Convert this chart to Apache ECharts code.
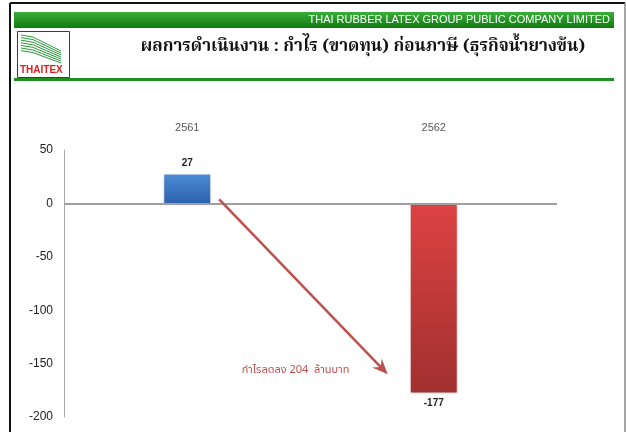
<!DOCTYPE html>
<html>
<head>
<meta charset="utf-8">
<script src="https://cdn.jsdelivr.net/npm/echarts@6/dist/echarts.min.js"></script>
<style>
  html, body { margin: 0; padding: 0; background: #fff; }
  #chart { width: 626px; height: 432px; }
</style>
</head>
<body>
<div id="chart"></div>
<script>
// data
var categories = ['2561', '2562']
var profitValues = [27, -177]
var yTicks = { min: -200, max: 50, interval: 50 }
var companyName = 'THAI RUBBER LATEX GROUP PUBLIC COMPANY LIMITED'
var titleText = 'ผลการดำเนินงาน : กำไร (ขาดทุน) ก่อนภาษี (ธุรกิจน้ำยางข้น)'
var noteText = 'กำไรลดลง 204  ล้านบาท'

var myChart = echarts.init(document.getElementById('chart'))

function barColor(v) {
  // blue for profit, red for loss
  if (v >= 0) {
    return new echarts.graphic.LinearGradient(0, 0, 0, 1, [
      { offset: 0, color: '#4d8ad6' },
      { offset: 1, color: '#2c62ac' },
    ])
  }
  return new echarts.graphic.LinearGradient(0, 0, 0, 1, [
    { offset: 0, color: '#dd4242' },
    { offset: 1, color: '#a23030' },
  ])
}

var barData = profitValues.map(function (v) {
  return {
    value: v,
    itemStyle: { color: barColor(v) },
    label: { position: v >= 0 ? 'top' : 'bottom' },
  }
})

myChart.setOption({
  animation: false,
  backgroundColor: '#fff',
  grid: { left: 64, right: 69, top: 150, bottom: 15 },
  xAxis: {
    type: 'category',
    data: categories,
    position: 'top',
    axisLine: { show: false, onZero: false },
    axisTick: { show: false },
    axisLabel: { margin: 17, color: '#595959', fontSize: 11, fontFamily: 'Liberation Sans, Arial' },
  },
  yAxis: {
    type: 'value',
    min: yTicks.min,
    max: yTicks.max,
    interval: yTicks.interval,
    axisLine: { show: true, lineStyle: { color: '#a6a6a6', width: 1 } },
    axisTick: { show: false },
    splitLine: { show: false },
    axisLabel: { margin: 11, color: '#222', fontSize: 12, fontFamily: 'Liberation Sans, Arial' },
  },
  series: [
    {
      type: 'bar',
      data: barData,
      barWidth: 46,
      itemStyle: { shadowBlur: 3, shadowColor: 'rgba(0,0,0,0.3)', shadowOffsetY: 1 },
      label: {
        show: true,
        color: '#222',
        fontSize: 10,
        fontWeight: 'bold',
        distance: 6,
        fontFamily: 'Liberation Sans, Arial',
      },
      markLine: {
        silent: true,
        symbol: 'none',
        label: { show: false },
        lineStyle: { color: '#a0a0a0', width: 2, type: 'solid' },
        data: [{ yAxis: 0 }],
      },
    },
  ],
})

// logo stripes
var logoLines = []
for (var i = 0; i < 7; i++) {
  logoLines.push({
    type: 'polyline',
    shape: { points: [[21, 35 + i * 2.6], [33, 37 + i * 2.6], [61, 51 + i * 2]] },
    style: { stroke: '#2a9a3a', lineWidth: 1, fill: null },
  })
}

// arrow + note placed relative to the bars
var p0 = myChart.convertToPixel({ seriesIndex: 0 }, [0, 0])
var p1 = myChart.convertToPixel({ seriesIndex: 0 }, [1, -160])
var x1 = p0[0] + 32, y1 = p0[1] - 4
var x2 = p1[0] - 46, y2 = p1[1]
var ang = Math.atan2(y2 - y1, x2 - x1)
var head = 17, spread = 0.4

var graphics = [
  // outer frame
  { type: 'line', shape: { x1: 10, y1: 3, x2: 10, y2: 432 }, style: { stroke: '#111', lineWidth: 2 } },
  { type: 'line', shape: { x1: 10, y1: 3, x2: 625, y2: 3 }, style: { stroke: '#111', lineWidth: 2 } },
  { type: 'line', shape: { x1: 625, y1: 3, x2: 625, y2: 432 }, style: { stroke: '#888', lineWidth: 1.5 } },
  // green header band
  {
    type: 'rect',
    shape: { x: 14, y: 12, width: 600, height: 16 },
    style: {
      fill: new echarts.graphic.LinearGradient(0, 0, 0, 1, [
        { offset: 0, color: '#3cae3c' },
        { offset: 1, color: '#107a10' },
      ]),
    },
  },
  {
    type: 'text', x: 610, y: 20,
    style: {
      text: companyName, fill: '#fff', fontSize: 11, fontFamily: 'Liberation Sans, Arial',
      align: 'right', verticalAlign: 'middle',
    },
  },
  // logo
  { type: 'rect', shape: { x: 17.5, y: 31.5, width: 52, height: 46 }, style: { fill: '#fff', stroke: '#2030c8', lineWidth: 1 } },
].concat(logoLines).concat([
  {
    type: 'text', x: 20, y: 70,
    style: { text: 'THAITEX', fill: '#e02020', fontSize: 10, fontWeight: 'bold', fontFamily: 'Liberation Sans, Arial', verticalAlign: 'middle' },
  },
  {
    type: 'text', x: 363, y: 48,
    style: {
      text: titleText, fill: '#111', fontSize: 17, fontWeight: 'bold',
      fontFamily: 'Noto Serif Thai, Noto Sans Thai, serif', align: 'center', verticalAlign: 'middle',
    },
  },
  // green rule under the title
  { type: 'rect', shape: { x: 14, y: 78, width: 600, height: 3 }, style: { fill: '#1f8f1f' } },
  // arrow
  {
    type: 'line', z: 10,
    shape: { x1: x1, y1: y1, x2: x2 - Math.cos(ang) * 9, y2: y2 - Math.sin(ang) * 9 },
    style: { stroke: '#c0504d', lineWidth: 2.5 },
  },
  {
    type: 'polygon', z: 10,
    shape: {
      points: [
        [x2, y2],
        [x2 - head * Math.cos(ang - spread), y2 - head * Math.sin(ang - spread)],
        [x2 - head * 0.6 * Math.cos(ang), y2 - head * 0.6 * Math.sin(ang)],
        [x2 - head * Math.cos(ang + spread), y2 - head * Math.sin(ang + spread)],
      ],
    },
    style: { fill: '#c0504d' },
  },
  {
    type: 'text', x: p1[0] - 192, y: p1[1] - 3, z: 10,
    style: { text: noteText, fill: '#c0504d', fontSize: 11, fontFamily: 'Noto Sans Thai, sans-serif', verticalAlign: 'middle' },
  },
])

myChart.setOption({ graphic: graphics })
</script>
</body>
</html>
